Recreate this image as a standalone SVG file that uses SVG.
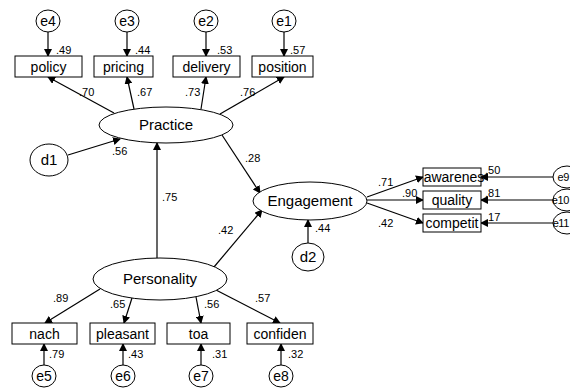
<svg xmlns="http://www.w3.org/2000/svg" width="570" height="390" viewBox="0 0 570 390">
<defs>
<marker id="ah" markerWidth="8" markerHeight="8" refX="7" refY="4" orient="auto" markerUnits="userSpaceOnUse">
<path d="M0,0 L8,4 L0,8 Z" fill="#000"/>
</marker>
<style>
.n{fill:#fff;stroke:#000;stroke-width:1}
.c{stroke:#000;stroke-width:1.2;fill:none;marker-end:url(#ah)}
.t{font-family:"Liberation Sans",Arial,sans-serif;font-size:14px;text-anchor:middle;fill:#000}
.big{font-size:15px}
.r{font-size:11px;text-anchor:end;letter-spacing:-0.4px}
.v{font-family:"Liberation Sans",Arial,sans-serif;font-size:11px;fill:#000}
</style>
</defs>
<rect width="570" height="390" fill="#fff"/>

<g id="connectors">
<line class="c" x1="48" y1="32" x2="48" y2="56"/>
<line class="c" x1="127" y1="32" x2="127" y2="56"/>
<line class="c" x1="206" y1="32" x2="206" y2="56"/>
<line class="c" x1="284" y1="32" x2="284" y2="56"/>
<line class="c" x1="114" y1="113" x2="48" y2="77"/>
<line class="c" x1="134" y1="109" x2="127" y2="77"/>
<line class="c" x1="201" y1="109" x2="206" y2="77"/>
<line class="c" x1="220" y1="114" x2="284" y2="77"/>
<line class="c" x1="68" y1="155" x2="120" y2="139"/>
<line class="c" x1="222" y1="135" x2="260" y2="193"/>
<line class="c" x1="157" y1="258" x2="157" y2="143"/>
<line class="c" x1="214" y1="267" x2="262" y2="210"/>
<line class="c" x1="308" y1="243" x2="308" y2="220"/>
<line class="c" x1="367" y1="197" x2="423" y2="177"/>
<line class="c" x1="367" y1="200" x2="423" y2="200"/>
<line class="c" x1="367" y1="203" x2="423" y2="223"/>
<line class="c" x1="553" y1="177" x2="481" y2="177"/>
<line class="c" x1="553" y1="200" x2="481" y2="200"/>
<line class="c" x1="553" y1="223" x2="481" y2="223"/>
<line class="c" x1="100" y1="289" x2="45" y2="323"/>
<line class="c" x1="132" y1="298" x2="124" y2="323"/>
<line class="c" x1="196" y1="297" x2="201" y2="323"/>
<line class="c" x1="216" y1="290" x2="280" y2="323"/>
<line class="c" x1="44" y1="365" x2="44" y2="344"/>
<line class="c" x1="123" y1="365" x2="123" y2="344"/>
<line class="c" x1="201" y1="365" x2="201" y2="344"/>
<line class="c" x1="281" y1="365" x2="281" y2="344"/>
</g>

<g id="e4"><ellipse class="n" cx="48" cy="21" rx="12" ry="11"/><text class="t" x="48" y="26">e4</text></g>
<g id="e3"><ellipse class="n" cx="127" cy="21" rx="12" ry="11"/><text class="t" x="127" y="26">e3</text></g>
<g id="e2"><ellipse class="n" cx="206" cy="21" rx="12" ry="11"/><text class="t" x="206" y="26">e2</text></g>
<g id="e1"><ellipse class="n" cx="284" cy="21" rx="12" ry="11"/><text class="t" x="284" y="26">e1</text></g>

<g id="policy"><rect class="n" x="15" y="56" width="67" height="21"/><text class="t" x="48.5" y="72">policy</text></g>
<g id="pricing"><rect class="n" x="94" y="56" width="59" height="21"/><text class="t" x="123.5" y="72">pricing</text></g>
<g id="delivery"><rect class="n" x="173" y="56" width="67" height="21"/><text class="t" x="206.5" y="72">delivery</text></g>
<g id="position"><rect class="n" x="252" y="56" width="61" height="21"/><text class="t" x="282.5" y="72">position</text></g>

<g id="Practice"><ellipse class="n" cx="166" cy="125" rx="67" ry="18"/><text class="t big" x="166" y="130">Practice</text></g>
<g id="d1"><ellipse class="n" cx="49" cy="160" rx="19" ry="16"/><text class="t big" x="49" y="165">d1</text></g>
<g id="Engagement"><ellipse class="n" cx="310" cy="201" rx="57" ry="19"/><text class="t big" x="310" y="206">Engagement</text></g>
<g id="d2"><ellipse class="n" cx="308" cy="257" rx="16" ry="14"/><text class="t big" x="308" y="262">d2</text></g>

<g id="awarenes"><rect class="n" x="423" y="168" width="58" height="18"/><text class="t" x="454" y="182">awarenes</text></g>
<g id="quality"><rect class="n" x="423" y="191" width="58" height="18"/><text class="t" x="452" y="205">quality</text></g>
<g id="competit"><rect class="n" x="423" y="214" width="58" height="18"/><text class="t" x="452" y="228">competit</text></g>

<g id="e9"><ellipse class="n" cx="567" cy="177" rx="14" ry="11"/><text class="t r" x="569" y="181">e9</text></g>
<g id="e10"><ellipse class="n" cx="567" cy="200" rx="14" ry="11"/><text class="t r" x="569" y="204">e10</text></g>
<g id="e11"><ellipse class="n" cx="567" cy="223" rx="14" ry="11"/><text class="t r" x="569" y="227">e11</text></g>

<g id="Personality"><ellipse class="n" cx="160" cy="279" rx="67" ry="21"/><text class="t big" x="160" y="284">Personality</text></g>

<g id="nach"><rect class="n" x="12" y="323" width="65" height="21"/><text class="t" x="44.5" y="339">nach</text></g>
<g id="pleasant"><rect class="n" x="90" y="323" width="65" height="21"/><text class="t" x="122.5" y="339">pleasant</text></g>
<g id="toa"><rect class="n" x="167" y="323" width="63" height="21"/><text class="t" x="198.5" y="339">toa</text></g>
<g id="confiden"><rect class="n" x="247" y="323" width="66" height="21"/><text class="t" x="280" y="339">confiden</text></g>

<g id="e5"><ellipse class="n" cx="44" cy="376" rx="12" ry="11"/><text class="t" x="44" y="381">e5</text></g>
<g id="e6"><ellipse class="n" cx="123" cy="376" rx="12" ry="11"/><text class="t" x="123" y="381">e6</text></g>
<g id="e7"><ellipse class="n" cx="201" cy="376" rx="12" ry="11"/><text class="t" x="201" y="381">e7</text></g>
<g id="e8"><ellipse class="n" cx="281" cy="376" rx="12" ry="11"/><text class="t" x="281" y="381">e8</text></g>

<g id="labels">
<text class="v" x="56" y="54">.49</text>
<text class="v" x="135" y="54">.44</text>
<text class="v" x="217" y="54">.53</text>
<text class="v" x="290" y="54">.57</text>
<text class="v" x="79" y="96">.70</text>
<text class="v" x="137" y="96">.67</text>
<text class="v" x="185" y="96">.73</text>
<text class="v" x="240" y="96">.76</text>
<text class="v" x="112" y="155">.56</text>
<text class="v" x="245" y="162">.28</text>
<text class="v" x="162" y="201">.75</text>
<text class="v" x="218" y="234">.42</text>
<text class="v" x="315" y="232">.44</text>
<text class="v" x="378" y="186">.71</text>
<text class="v" x="402" y="197">.90</text>
<text class="v" x="378" y="227">.42</text>
<text class="v" x="485" y="174">.50</text>
<text class="v" x="485" y="197">.81</text>
<text class="v" x="485" y="221">.17</text>
<text class="v" x="53" y="302">.89</text>
<text class="v" x="110" y="308">.65</text>
<text class="v" x="204" y="308">.56</text>
<text class="v" x="255" y="302">.57</text>
<text class="v" x="49" y="358">.79</text>
<text class="v" x="128" y="358">.43</text>
<text class="v" x="212" y="358">.31</text>
<text class="v" x="288" y="358">.32</text>
</g>
</svg>
